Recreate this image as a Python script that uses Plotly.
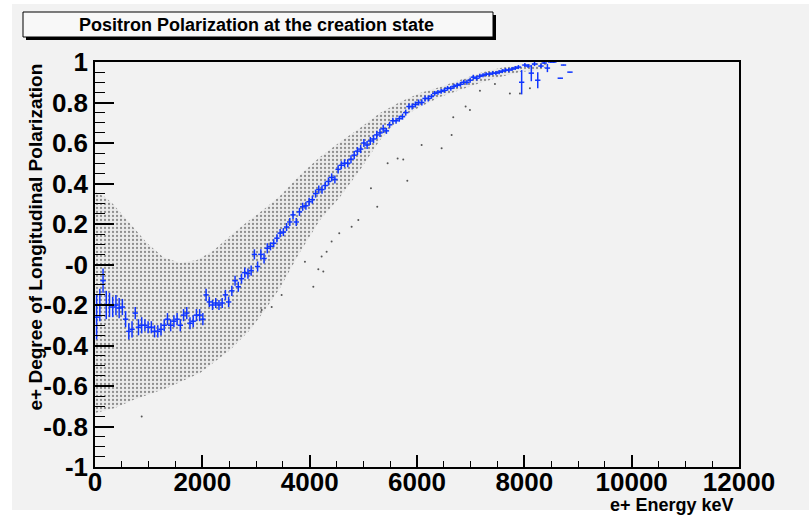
import plotly.graph_objects as go

# ---------------- data ----------------
# profile: mean polarization per 60 keV energy bin (bin centers)
profile_x = list(range(30, 8880, 60))
profile_y = [
    -0.26, -0.20, -0.08, -0.20, -0.20, -0.21, -0.20, -0.215, -0.21, -0.27,
    -0.33, -0.32, -0.24, -0.31, -0.30, -0.30, -0.31, -0.31, -0.33, -0.33,
    -0.32, -0.30, -0.27, -0.30, -0.28, -0.27, -0.30, -0.25, -0.24, -0.29,
    -0.28, -0.25, -0.25, -0.27, -0.15, -0.185, -0.20, -0.19, -0.20, -0.19,
    -0.15, -0.185, -0.13, -0.08, -0.11, -0.07, -0.04, -0.045, -0.03, 0.05,
    -0.01, 0.05, 0.03, 0.08, 0.09, 0.105, 0.13, 0.155, 0.16, 0.185,
    0.21, 0.245, 0.21, 0.26, 0.285, 0.29, 0.31, 0.32, 0.35, 0.37,
    0.37, 0.39, 0.41, 0.43, 0.42, 0.47, 0.49, 0.50, 0.50, 0.52,
    0.54, 0.56, 0.57, 0.60, 0.59, 0.61, 0.62, 0.64, 0.65, 0.67,
    0.66, 0.69, 0.71, 0.71, 0.72, 0.73, 0.75, 0.78, 0.78, 0.79,
    0.80, 0.80, 0.82, 0.82, 0.83, 0.845, 0.85, 0.855, 0.86, 0.87,
    0.87, 0.88, 0.885, 0.89, 0.90, 0.90, 0.91, 0.925, 0.92, 0.93,
    0.935, 0.94, 0.94, 0.945, 0.945, 0.95, 0.955, 0.96, 0.96, 0.965,
    0.97, 0.975, 0.90, 0.985, 0.98, 0.945, 0.99, 0.91, 0.98, 0.995,
    0.97, 1.0, 1.0, None, 0.92, 0.985, None, 0.95,
]
profile_err = [
    0.11, 0.08, 0.06, 0.07, 0.06, 0.05, 0.05, 0.05, 0.04, 0.04,
    0.04, 0.04, 0.03, 0.04, 0.04, 0.03, 0.03, 0.03, 0.03, 0.03,
    0.03, 0.03, 0.03, 0.03, 0.03, 0.03, 0.03, 0.03, 0.03, 0.03,
    0.03, 0.03, 0.03, 0.03, 0.03, 0.025, 0.025, 0.025, 0.025, 0.025,
    0.025, 0.025, 0.025, 0.025, 0.025, 0.025, 0.025, 0.025, 0.025, 0.025,
    0.025, 0.025, 0.025, 0.025, 0.02, 0.02, 0.02, 0.02, 0.02, 0.02,
    0.02, 0.02, 0.02, 0.02, 0.02, 0.02, 0.02, 0.02, 0.02, 0.02,
    0.02, 0.02, 0.02, 0.02, 0.02, 0.02, 0.02, 0.02, 0.02, 0.02,
    0.02, 0.02, 0.02, 0.02, 0.02, 0.02, 0.02, 0.02, 0.02, 0.02,
    0.015, 0.015, 0.015, 0.015, 0.015, 0.015, 0.015, 0.015, 0.015, 0.015,
    0.015, 0.015, 0.015, 0.015, 0.012, 0.012, 0.012, 0.012, 0.012, 0.012,
    0.012, 0.012, 0.012, 0.012, 0.012, 0.012, 0.012, 0.012, 0.012, 0.012,
    0.01, 0.01, 0.01, 0.01, 0.01, 0.01, 0.01, 0.01, 0.01, 0.01,
    0.01, 0.01, 0.06, 0.01, 0.01, 0.04, 0.01, 0.04, 0.01, 0.005,
    0.02, 0.005, 0.005, 0.0, 0.0, 0.0, 0.0, 0.0,
]

# scatter cloud envelope (energy keV, polarization)
upper_x = [0, 186, 335, 652, 969, 1267, 1584, 1901, 2199, 2516, 2833, 3131,
           3447, 3820, 4193, 4565, 4938, 5311, 5683, 6056, 6429, 6801, 7174,
           7547, 7919, 8292, 8441]
upper_y = [0.358, 0.333, 0.299, 0.200, 0.106, 0.037, 0.007, 0.022, 0.067,
           0.141, 0.210, 0.269, 0.338, 0.442, 0.531, 0.605, 0.674, 0.748,
           0.802, 0.847, 0.877, 0.911, 0.946, 0.970, 0.985, 0.995, 1.0]
lower_x = [0, 373, 708, 1342, 1957, 2516, 2888, 3168, 3447, 3820, 4193, 4565,
           4938, 5311, 5683, 6056, 6429, 6801, 7174, 7547, 7919, 8292, 8441]
lower_y = [-0.733, -0.709, -0.669, -0.610, -0.536, -0.422, -0.323, -0.225,
           -0.116, 0.062, 0.220, 0.333, 0.467, 0.615, 0.723, 0.778, 0.827,
           0.862, 0.896, 0.926, 0.951, 0.960, 0.98]

# isolated events outside the dense band
stray_x = [5142, 5259, 5819, 5639, 5744, 5453, 4782, 4551, 4906, 4409, 4316,
           4223, 4161, 4254, 3912, 6086, 6459, 6645, 6676, 6906, 6986, 7173,
           7452, 7731, 7918, 8104, 4068, 3478, 3292, 3106, 870]
stray_y = [0.376, 0.285, 0.414, 0.524, 0.519, 0.50, 0.187, 0.154, 0.22,
           0.113, 0.063, 0.039, -0.024, -0.035, 0.014, 0.59, 0.574, 0.64,
           0.727, 0.78, 0.763, 0.858, 0.891, 0.845, 0.845, 0.87, -0.11,
           -0.15, -0.21, -0.225, -0.75]

x_ticks = [0, 2000, 4000, 6000, 8000, 10000, 12000]
x_ticktext = ["0", "2000", "4000", "6000", "8000", "10000", "12000"]
y_ticks = [1, 0.8, 0.6, 0.4, 0.2, 0, -0.2, -0.4, -0.6, -0.8, -1]
y_ticktext = ["1", "0.8", "0.6", "0.4", "0.2", "-0", "-0.2", "-0.4", "-0.6", "-0.8", "-1"]

TITLE = "Positron Polarization at the creation state"
XTITLE = "e+ Energy keV"
YTITLE = "e+ Degree of Longitudinal Polarization"

# ---------------- layout helpers (pixel -> paper) ----------------
W, H = 809, 515
L, R, T, B = 95, 739, 62, 467


def px(x):
    return (x - L) / (R - L)


def py(y):
    return (B - y) / (B - T)


BLUE = "#1036ff"
FONT = "Liberation Sans, Arial, sans-serif"

fig = go.Figure()

fig.add_trace(go.Scatter(
    x=upper_x + lower_x[::-1], y=upper_y + lower_y[::-1],
    fill="toself", mode="lines", line=dict(width=0, color="rgba(0,0,0,0)"),
    fillcolor="rgba(120,120,120,0.10)",
    fillpattern=dict(shape=".", fgcolor="#2e2e2e", bgcolor="rgba(150,150,150,0.08)",
                     size=4, solidity=0.25),
    hoverinfo="skip", showlegend=False,
))

fig.add_trace(go.Scatter(
    x=stray_x, y=stray_y, mode="markers",
    marker=dict(size=2, color="#555555"), showlegend=False,
))

fig.add_trace(go.Scatter(
    x=profile_x, y=profile_y, mode="markers",
    marker=dict(size=1, color=BLUE),
    error_y=dict(type="data", array=profile_err, color=BLUE, thickness=1.5, width=0),
    error_x=dict(type="constant", value=50, color=BLUE, thickness=1.5, width=0),
    showlegend=False,
))

fig.update_layout(
    width=W, height=H,
    margin=dict(l=L, r=W - R, t=T, b=H - B),
    paper_bgcolor="white", plot_bgcolor="#f2f2f2",
    font=dict(family=FONT, color="black"),
    xaxis=dict(
        range=[0, 12000], tickvals=x_ticks, ticktext=x_ticktext, ticks="inside",
        ticklen=12, tickwidth=1.5, tickcolor="black", showgrid=False,
        zeroline=False, showline=True, mirror=True, linecolor="black",
        linewidth=1.5, tickfont=dict(size=26, family=FONT, weight="bold"),
        ticklabelstandoff=-9,
        minor=dict(dtick=500, ticks="inside", ticklen=6, tickcolor="black", tickwidth=1),
    ),
    yaxis=dict(
        range=[-1, 1], tickvals=y_ticks, ticktext=y_ticktext, ticks="inside",
        ticklen=19, tickwidth=1.5, tickcolor="black", showgrid=False,
        zeroline=False, showline=True, mirror=True, linecolor="black",
        linewidth=1.5, tickfont=dict(size=26, family=FONT, weight="bold"),
        minor=dict(dtick=0.05, ticks="inside", ticklen=10, tickcolor="black", tickwidth=1),
    ),
    shapes=[
        dict(type="rect", xref="paper", yref="paper", layer="below",
             x0=px(12), x1=px(809), y0=py(510), y1=py(4),
             fillcolor="#f2f2f2", line=dict(width=0)),
        dict(type="rect", xref="paper", yref="paper",
             x0=px(26), x1=px(496), y0=py(40), y1=py(15),
             fillcolor="black", line=dict(width=0)),
        dict(type="rect", xref="paper", yref="paper",
             x0=px(23), x1=px(493), y0=py(37), y1=py(12),
             fillcolor="#f8f8f8", line=dict(width=1, color="black")),
    ],
    annotations=[
        dict(text=TITLE, xref="paper", yref="paper", x=px(256), y=py(24.5),
             xanchor="center", yanchor="middle", showarrow=False,
             font=dict(size=18, family=FONT, weight="bold")),
        dict(text=XTITLE, xref="paper", yref="paper", x=px(736), y=py(505),
             xanchor="right", yanchor="middle", showarrow=False,
             font=dict(size=18, family=FONT, weight="bold")),
        dict(text=YTITLE, xref="paper", yref="paper", x=px(35), y=py(62),
             xanchor="center", yanchor="top", textangle=-90, showarrow=False,
             font=dict(size=19, family=FONT, weight="bold")),
    ],
)

fig.write_html("out.html")
